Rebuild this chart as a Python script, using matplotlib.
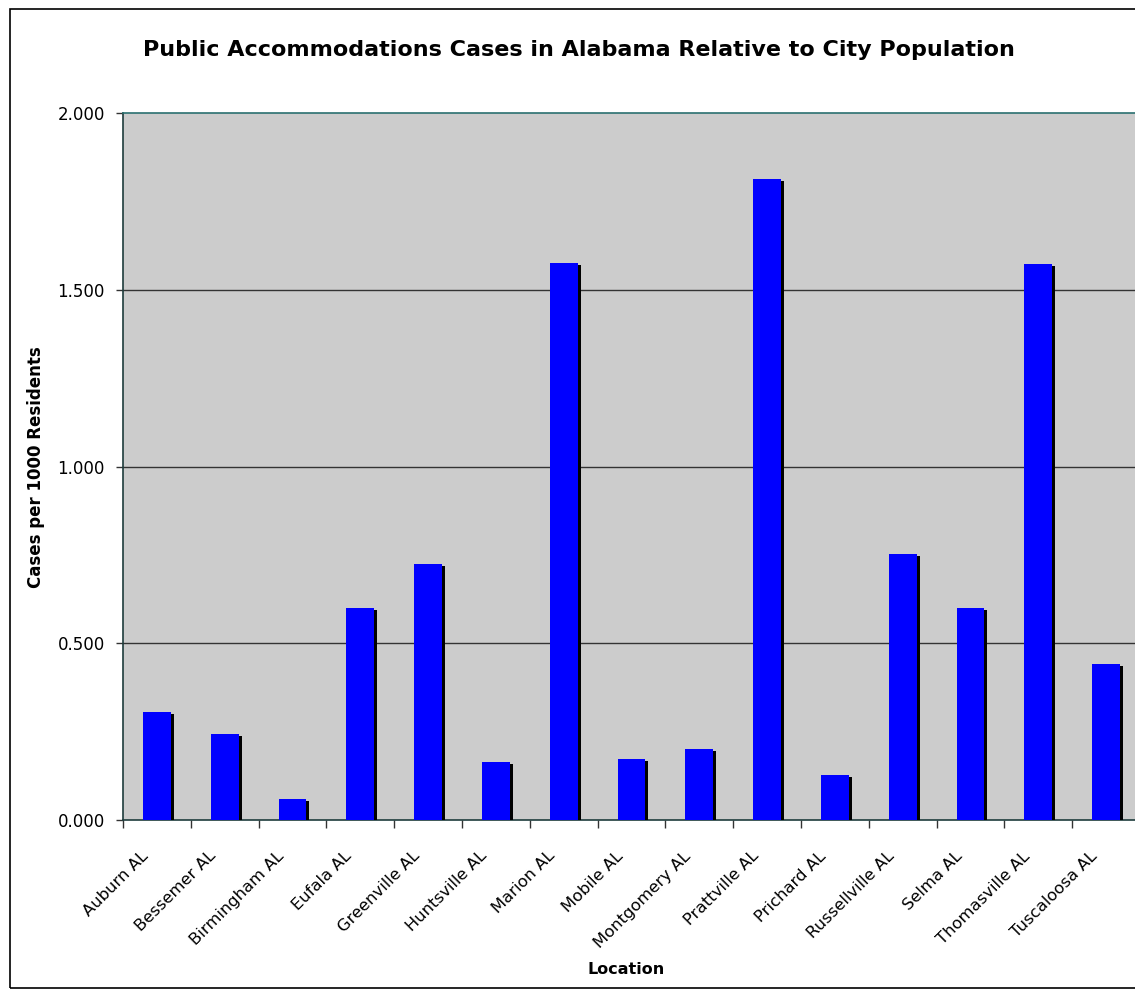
import matplotlib.pyplot as plt
import matplotlib.patheffects as pe
from matplotlib.patches import Rectangle
import numpy as np

# Cases per 1000 residents, by city
cities = ['Auburn AL', 'Bessemer AL', 'Birmingham AL', 'Eufala AL', 'Greenville AL',
          'Huntsville AL', 'Marion AL', 'Mobile AL', 'Montgomery AL', 'Prattville AL',
          'Prichard AL', 'Russellville AL', 'Selma AL', 'Thomasville AL', 'Tuscaloosa AL']
cases_per_1000 = [0.305, 0.243, 0.059, 0.600, 0.724, 0.164, 1.576, 0.173, 0.201,
                  1.813, 0.127, 0.752, 0.599, 1.574, 0.441]
y_ticks = [0.0, 0.5, 1.0, 1.5, 2.0]

W, H = 1135, 992
fig = plt.figure(figsize=(W / 100, H / 100), dpi=100)
fig.patch.set_facecolor('white')

# outer chart border
fig.add_artist(Rectangle((10 / W, 4 / H), 1.2, (H - 13) / H, transform=fig.transFigure,
                         fill=False, edgecolor='black', linewidth=1.2))

ax = fig.add_axes([123 / W, (H - 820) / H, 1017 / W, 707 / H])
ax.set_facecolor('#CCCCCC')

x = np.arange(len(cities))
bars = ax.bar(x, cases_per_1000, width=0.41, color='#0000FF', zorder=3,
              path_effects=[pe.SimplePatchShadow(offset=(2.2, -1.4), shadow_rgbFace='black', alpha=1.0),
                            pe.Normal()])

ax.set_xlim(-0.5, len(cities) - 0.5)
ax.set_ylim(0, 2.0)

# horizontal gridlines
for v in y_ticks[1:-1]:
    ax.axhline(v, color='#333333', linewidth=1, zorder=1)

ax.set_yticks(y_ticks)
ax.set_yticklabels([f'{v:.3f}' for v in y_ticks], fontsize=12)
ax.tick_params(axis='y', direction='out', length=5, width=1, color='#333333', pad=8)

# category ticks sit between the bars
ax.set_xticks(np.arange(len(cities) + 1) - 0.5)
ax.set_xticklabels([])
ax.tick_params(axis='x', direction='out', length=6, width=1, color='#333333')
for i, name in enumerate(cities):
    ax.text(i - 0.24, -0.08, name, rotation=45, ha='right', va='top',
            rotation_mode='anchor', fontsize=11.8)

for side in ['left', 'bottom']:
    ax.spines[side].set_color('#1e3c3c')
    ax.spines[side].set_linewidth(1.2)
ax.spines['top'].set_color('#2a7070')
ax.spines['top'].set_linewidth(1.2)
ax.spines['right'].set_visible(False)

fig.text(579 / W, 1 - 50 / H, 'Public Accommodations Cases in Alabama Relative to City Population',
         ha='center', va='center', fontsize=16, fontweight='bold')
fig.text(36 / W, 1 - 467 / H, 'Cases per 1000 Residents', rotation=90,
         ha='center', va='center', fontsize=12, fontweight='bold')
fig.text(626 / W, 1 - 970 / H, 'Location', ha='center', va='center',
         fontsize=11.5, fontweight='bold')

fig.savefig('out.png', dpi=100)
